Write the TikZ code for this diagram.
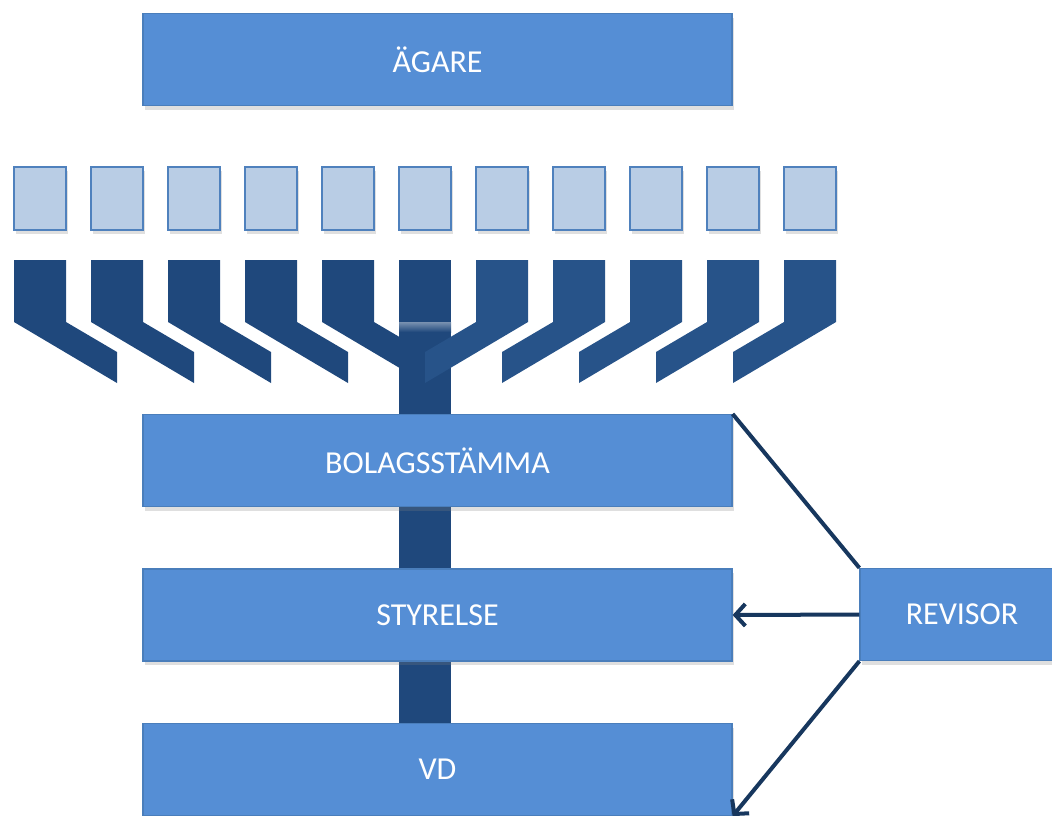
\documentclass[tikz,border=0pt]{standalone}
\usepackage{fontspec}
\setmainfont{Carlito}
\usetikzlibrary{arrows.meta, shadows}
\definecolor{boxblue}{HTML}{558ED5}
\definecolor{boxedge}{HTML}{4A7EBB}
\definecolor{lightsq}{HTML}{B9CDE5}
\definecolor{sqedge}{HTML}{4F81BD}
\definecolor{darkleft}{HTML}{1F487C}
\definecolor{darkright}{HTML}{275389}
\definecolor{linkcol}{HTML}{17375E}

\begin{document}
\begin{tikzpicture}[x=0.5pt, y=-0.5pt,
    bigbox/.style={draw=boxedge, line width=0.6pt, fill=boxblue, text=white,
      minimum width=294.5pt, minimum height=46pt, inner sep=0pt,
      font=\fontsize{16}{18}\selectfont,
      drop shadow={shadow xshift=1pt, shadow yshift=-2pt, opacity=0.25}},
    sqbox/.style={draw=sqedge, line width=1pt, fill=lightsq,
      minimum width=26pt, minimum height=31.5pt, inner sep=0pt,
      drop shadow={shadow xshift=1pt, shadow yshift=-2pt, opacity=0.25}},
    link/.style={draw=linkcol, line width=2pt}]
    \useasboundingbox (0,0) rectangle (1052,815);
    \clip (0,0) rectangle (1052,815);

    % stem behind the boxes
    \fill[darkleft] (399,260) rectangle (451,723);
    \shade[top color=darkleft!60!white, bottom color=darkleft] (399,322) rectangle (451,332);

    % bent bars
    \foreach \x in {14,91,168,245,322}
        \fill[darkleft] (\x,260) -- ++(52,0) -- ++(0,62) -- ++(51,30) -- ++(0,31) -- (\x,322) -- cycle;
    \foreach \x in {476,553,630,707,784}
        \fill[darkright] (\x,260) -- ++(52,0) -- ++(0,62) -- ++(-103,61) -- ++(0,-31) -- (\x,322) -- cycle;

    % shares
    \foreach \i [evaluate=\i as \x using 40+77*(\i-1)] in {1,...,11}
        \node[sqbox] (sq\i) at (\x,198.5) {};

    \node[bigbox] (agare) at (437.5,59.5) {ÄGARE};
    \node[bigbox] (bolag) at (437.5,460.5) {BOLAGSSTÄMMA};
    \node[bigbox] (styrelse) at (437.5,615) {STYRELSE};
    \node[bigbox] (vd) at (437.5,769.5) {VD};
    \node[bigbox, minimum width=102pt] (revisor) at (962,614.5) {REVISOR};

    \draw[link] (bolag.north east) -- (revisor.north west);
    \draw[link, -{Straight Barb[length=5pt, width=11pt, line width=2pt]}] (revisor.west) -- (styrelse.east);
    \draw[link, -{Straight Barb[length=5pt, width=11pt, line width=2pt]}] (revisor.south west) -- (vd.south east);
\end{tikzpicture}
\end{document}
